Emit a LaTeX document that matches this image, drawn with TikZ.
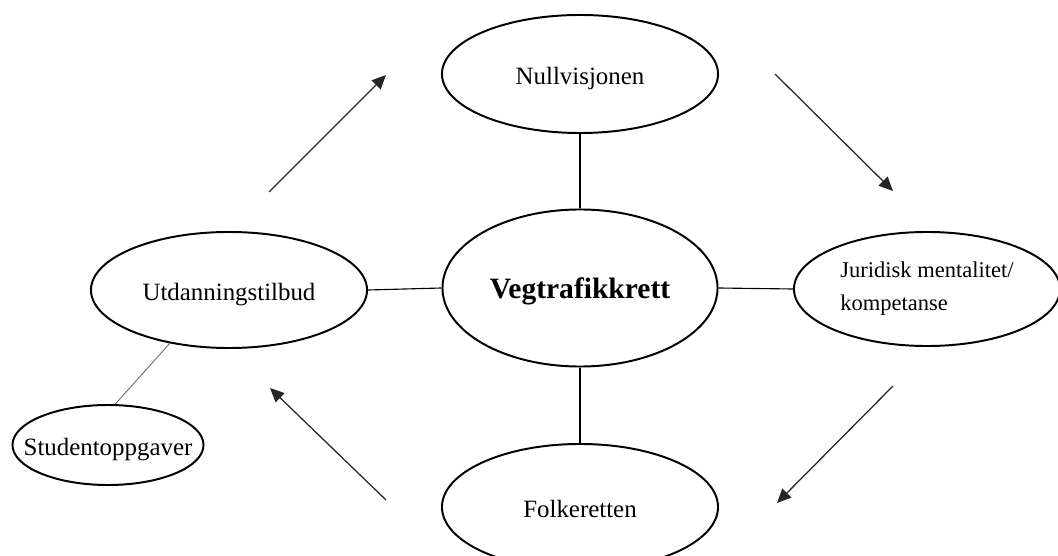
\documentclass[tikz,border=0pt]{standalone}
\usepackage{fontspec}
\setmainfont{Liberation Serif}
\usetikzlibrary{arrows.meta,shapes.geometric}
\tikzset{
  topicnode/.style={ellipse,draw=black,line width=1.4pt,align=center,
    inner sep=0pt,font=\fontsize{17.7}{24}\selectfont},
  lowtext/.style={text height=1.75em,text depth=0.22em},
  linkline/.style={line width=0.8pt,draw=black},
  sideline/.style={line width=0.6pt,draw=black!60},
  cycleflow/.style={-{Triangle[length=10pt,width=9pt]},line width=0.9pt,draw=black!85}
}

\begin{document}
\begin{tikzpicture}[x=0.025cm,y=-0.025cm]
\path[use as bounding box] (0,0) rectangle (1058,556);
% the five topics round the centre
\node[topicnode,lowtext,minimum width=6.875cm,minimum height=3.925cm,
  font=\fontsize{21}{24}\selectfont\bfseries] (veg) at (580,288) {Vegtrafikkrett};
\node[topicnode,lowtext,minimum width=6.9cm,minimum height=2.95cm] (null) at (580,74) {Nullvisjonen};
\node[topicnode,lowtext,minimum width=6.9cm,minimum height=3.15cm] (folk) at (580,507) {Folkeretten};
\node[topicnode,lowtext,minimum width=6.9cm,minimum height=2.9cm] (utd) at (229,290) {Utdanningstilbud};
\node[topicnode,minimum width=6.65cm,minimum height=2.85cm,align=left,
  font=\fontsize{16}{23.5}\selectfont] (jur) at (927,289)
  {Juridisk mentalitet/\\kompetanse};
\node[topicnode,lowtext,minimum width=4.775cm,minimum height=2cm,inner xsep=-18pt] (stud) at (108,445)
  {Studentoppgaver};
\draw[linkline] (null.south) -- (veg.north);
\draw[linkline] (veg.south) -- (folk.north);
\draw[linkline] (utd.east) -- (veg.west);
\draw[linkline] (veg.east) -- (jur.west);
\draw[sideline] (stud.80) -- (utd.222);
% the cycle arrows
\coordinate (nwtail) at (269,192); \coordinate (nwtip) at (386,75);
\coordinate (netail) at (775,74);  \coordinate (netip) at (893,191);
\coordinate (setail) at (893,386); \coordinate (setip) at (777,503);
\coordinate (swtail) at (386,500); \coordinate (swtip) at (270,388);
\draw[cycleflow] (nwtail) -- (nwtip);
\draw[cycleflow] (netail) -- (netip);
\draw[cycleflow] (setail) -- (setip);
\draw[cycleflow] (swtail) -- (swtip);
\end{tikzpicture}
\end{document}
